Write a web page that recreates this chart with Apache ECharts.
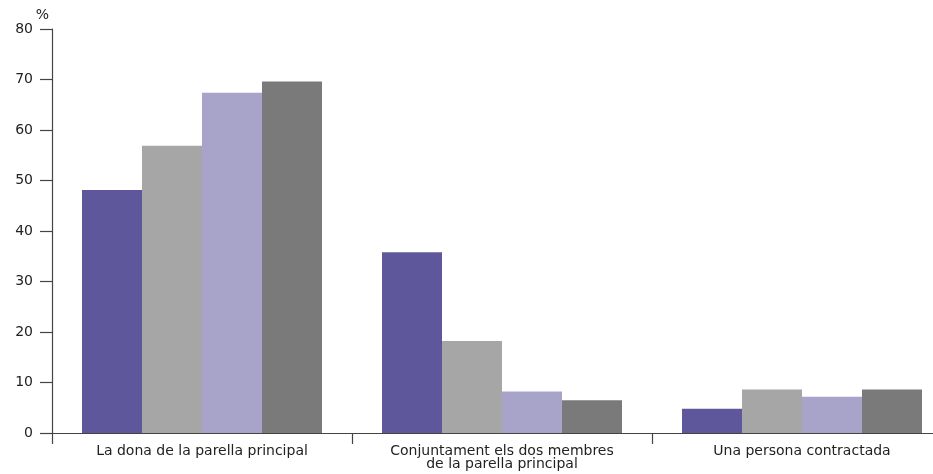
<!DOCTYPE html>
<html>
<head>
<meta charset="utf-8">
<script src="https://cdn.jsdelivr.net/npm/echarts@6/dist/echarts.min.js"></script>
<style>html,body{margin:0;padding:0;background:#fff;}#c{width:933px;height:474px;}</style>
</head>
<body>
<div id="c"></div>
<script>
var categories = ['La dona de la parella principal', 'Conjuntament els dos membres\nde la parella principal', 'Una persona contractada'];
var serie1 = [48.1, 35.8, 4.8];
var serie2 = [56.9, 18.2, 8.6];
var serie3 = [67.4, 8.2, 7.2];
var serie4 = [69.6, 6.5, 8.6];
var yTicks = [0, 10, 20, 30, 40, 50, 60, 70, 80];

var colors = ['#5f579c', '#a6a6a6', '#a8a3c9', '#7a7a7a'];
var font = '"DejaVu Sans", sans-serif';
var chart = echarts.init(document.getElementById('c'));
function s(data, i) {
  return { type: 'bar', data: data, barGap: '0%', barCategoryGap: '20%', itemStyle: { color: colors[i] }, silent: true };
}
chart.setOption({
  animation: false,
  grid: { left: 52, width: 900, top: 29, height: 404, containLabel: false, outerBoundsMode: 'none' },
  xAxis: {
    type: 'category', data: categories,
    axisLine: { lineStyle: { color: '#444', width: 1.2 } },
    axisTick: { show: true, length: 11, lineStyle: { color: '#444', width: 1.2 } },
    axisLabel: { color: '#222', fontSize: 14, fontFamily: font, margin: 12, lineHeight: 13 }
  },
  yAxis: {
    type: 'value', min: yTicks[0], max: yTicks[yTicks.length - 1], interval: 10,
    name: '%', nameLocation: 'end', nameGap: 4,
    nameTextStyle: { color: '#222', fontSize: 14, fontFamily: font, align: 'right', padding: [0, 3, 0, 0] },
    splitLine: { show: false },
    axisLine: { show: true, lineStyle: { color: '#444', width: 1.2 } },
    axisTick: { show: true, length: 12, lineStyle: { color: '#444', width: 1.2 } },
    axisLabel: { color: '#222', fontSize: 14, fontFamily: font, margin: 19 }
  },
  series: [s(serie1, 0), s(serie2, 1), s(serie3, 2), s(serie4, 3)]
});
</script>
</body>
</html>
